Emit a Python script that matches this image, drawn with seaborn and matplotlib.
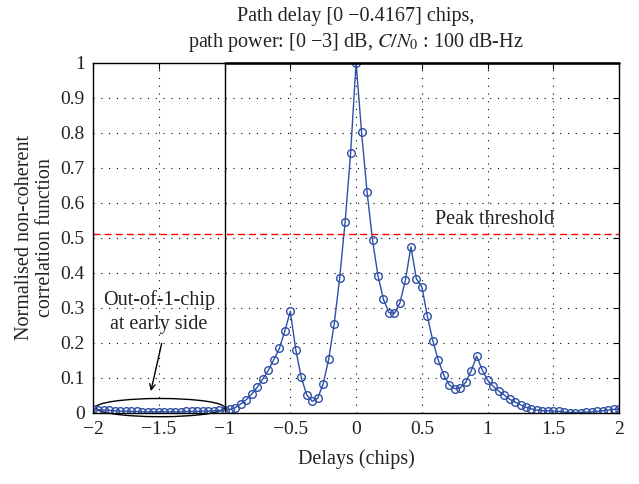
import numpy as np
import pandas as pd
import matplotlib
matplotlib.use("Agg")
import matplotlib.pyplot as plt
from matplotlib.patches import Ellipse
import seaborn as sns

# ---- data ----
delays = np.arange(-48, 49) / 24.0  # chip delays, step 1/24 chip
correlation = [
    0.010, 0.009, 0.008, 0.007, 0.006, 0.005, 0.005, 0.004, 0.004, 0.003,
    0.003, 0.003, 0.003, 0.003, 0.003, 0.003, 0.003, 0.004, 0.004, 0.004,
    0.005, 0.005, 0.006, 0.007, 0.008,
    0.010, 0.015, 0.026, 0.038, 0.054, 0.074, 0.097, 0.122, 0.152, 0.184,
    0.234, 0.290, 0.180, 0.101, 0.051, 0.033, 0.042, 0.083, 0.153, 0.253,
    0.384, 0.545, 0.741, 1.000, 0.801, 0.631, 0.493, 0.391, 0.324, 0.286,
    0.284, 0.314, 0.379, 0.474, 0.383, 0.360, 0.276, 0.206, 0.150, 0.108,
    0.080, 0.069, 0.071, 0.087, 0.120, 0.162, 0.123, 0.093, 0.076, 0.062,
    0.051, 0.039, 0.031, 0.023, 0.016, 0.011, 0.008, 0.006, 0.006, 0.005,
    0.004, 0.002, 0.001, 0.001, 0.001, 0.002, 0.003, 0.004, 0.006, 0.008,
    0.010, 0.011,
]
peak_threshold = 0.51
x_ticks = [-2, -1.5, -1, -0.5, 0, 0.5, 1, 1.5, 2]
x_ticklabels = ["\u22122", "\u22121.5", "\u22121", "\u22120.5", "0", "0.5", "1", "1.5", "2"]
y_ticks = [0, 0.1, 0.2, 0.3, 0.4, 0.5, 0.6, 0.7, 0.8, 0.9, 1]
y_ticklabels = ["0", "0.1", "0.2", "0.3", "0.4", "0.5", "0.6", "0.7", "0.8", "0.9", "1"]

df = pd.DataFrame({"delay": delays, "corr": correlation})

sns.set_style("white")
plt.rcParams["font.family"] = ["Liberation Serif", "DejaVu Serif"]
plt.rcParams["mathtext.fontset"] = "stix"

fig = plt.figure(figsize=(6.39, 4.84), dpi=100)
ax = fig.add_axes([0.1455, 0.147, 0.969 - 0.1455, 0.8705 - 0.147])

line_color = "#2E4FA6"
sns.lineplot(data=df, x="delay", y="corr", ax=ax, color=line_color, lw=1.0,
             marker="o", markersize=5.5, markerfacecolor="none",
             markeredgecolor=line_color, markeredgewidth=1.0)

ax.axhline(peak_threshold, color="red", ls=(0, (5, 3)), lw=1.0)
ax.text(0.6, peak_threshold + 0.015, "Peak threshold", fontsize=14.5,
        ha="left", va="bottom", color="#222222")

# out-of-1-chip region marking
ax.plot([-1, -1], [0, 1], color="black", lw=1.0)
ax.plot([-1, 2], [1, 1], color="black", lw=1.8, clip_on=False)
ell = Ellipse((-1.49, 0.015), 0.98, 0.052, fill=False, edgecolor="black", lw=1.0, clip_on=False)
ax.add_patch(ell)
ax.text(-1.50, 0.288, "Out-of-1-chip\nat early side", ha="center", va="center",
        fontsize=14.5, color="#222222", linespacing=1.35)
ax.annotate("", xy=(-1.56, 0.062), xytext=(-1.478, 0.198),
            arrowprops=dict(arrowstyle="->", color="black", lw=1.0, shrinkA=0, shrinkB=0))

ax.set_xlim(-2, 2)
ax.set_ylim(0, 1)
ax.set_xticks(x_ticks)
ax.set_xticklabels(x_ticklabels)
ax.set_yticks(y_ticks)
ax.set_yticklabels(y_ticklabels)
ax.tick_params(direction="in", length=4, width=0.8, top=True, right=True,
               labelsize=14, colors="black", labelcolor="#222222", pad=6)
ax.grid(True, color="black", ls=(0, (1, 6)), lw=0.8)
for s in ax.spines.values():
    s.set_visible(True)
    s.set_color("black")
    s.set_linewidth(1.0)

ax.set_xlabel("Delays (chips)", fontsize=14.5, color="#222222", labelpad=8)
ax.set_ylabel("Normalised non-coherent\ncorrelation function", fontsize=14.5,
              color="#222222", labelpad=4, linespacing=1.15)
ax.set_title("Path delay [0 \u22120.4167] chips,\npath power: [0 \u22123] dB, $C/N_0$ : 100 dB-Hz",
             fontsize=14.5, color="#222222", pad=11, linespacing=1.35)

fig.savefig("out.png", dpi=100)
